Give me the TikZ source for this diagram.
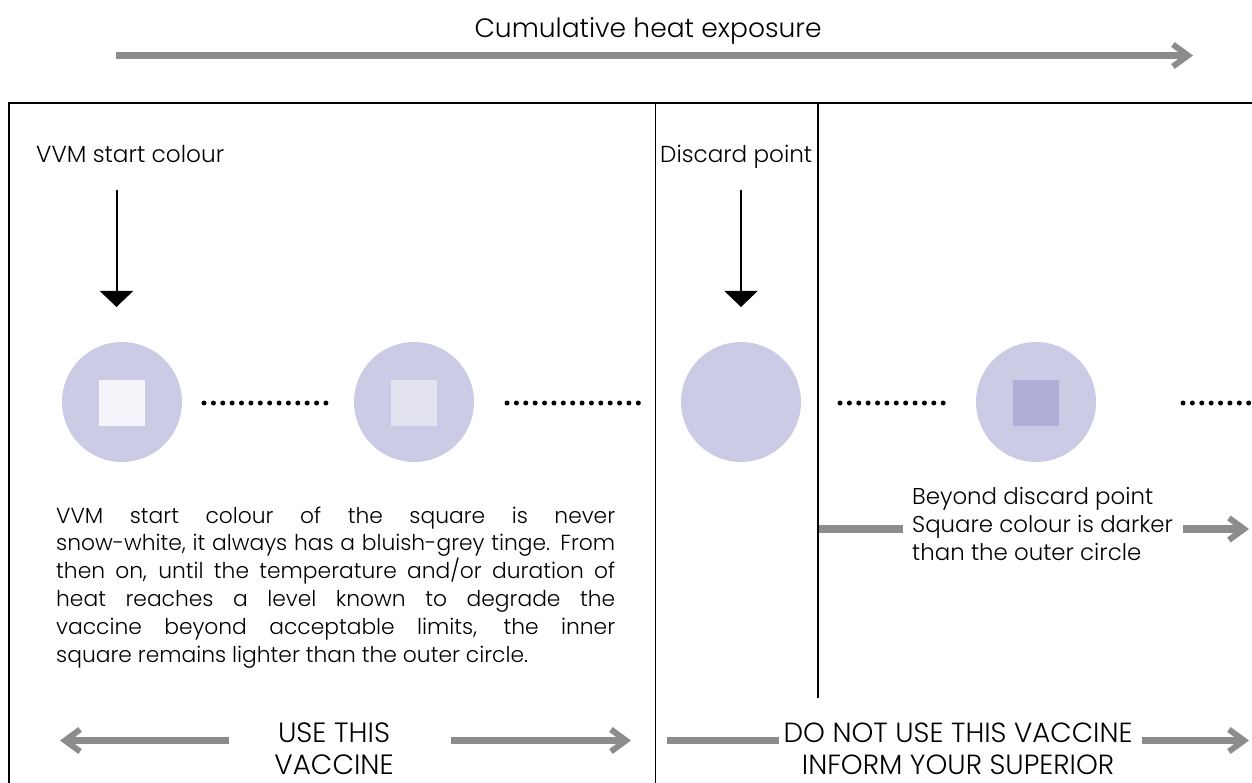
\documentclass[tikz,border=0pt]{standalone}
\usepackage{fontspec}
\IfFontExistsTF{Poppins Light}{\setmainfont{Poppins Light}}{\setmainfont{Poppins}}
\usetikzlibrary{arrows.meta}
\definecolor{circfill}{HTML}{CBCBE6}
\definecolor{sqA}{HTML}{F4F4FA}
\definecolor{sqB}{HTML}{E2E2F1}
\definecolor{sqD}{HTML}{AEAED6}
\definecolor{arrgray}{HTML}{8C8C8C}
\newsavebox\measbox
\newcommand\calcsize[3]{%
  \sbox\measbox{\fontsize{10pt}{12pt}\selectfont #3}%
  \pgfmathsetmacro#1{10*#2/\the\wd\measbox}}
\newcommand\jline[1]{\makebox[559pt][s]{#1}}
\tikzset{
  lbl/.style={inner sep=0pt},
  vvm/.style={circle, fill=circfill, minimum size=120pt, inner sep=0pt},
  sq/.style={minimum size=46pt, inner sep=0pt},
  border/.style={line width=1.6pt, black},
  pointer/.style={line width=2pt, -{Triangle[length=16pt,width=33pt]}},
  fat/.style={line width=7.5pt, arrgray},
  fatarrow/.style={fat, -{Straight Barb[length=15pt,width=22pt,line width=6pt]}},
  dotline/.style={line width=5pt, line cap=round, dash pattern=on 0pt off 9.38pt}
}
\begin{document}
\calcsize\sTitle{347}{Cumulative heat exposure}%
\calcsize\sLab{188}{VVM start colour}%
\calcsize\sDisc{152}{Discard point}%
\calcsize\sPara{552}{snow-white, it always has a bluish-grey tinge. From}%
\calcsize\sBey{241}{Beyond discard point}%
\calcsize\sUse{112}{USE THIS}%
\calcsize\sNot{349}{DO NOT USE THIS VACCINE}%
\begin{tikzpicture}[x=1pt,y=-1pt]
\useasboundingbox (0,0) rectangle (1252,783);
% title and top arrow
\node[lbl, anchor=base, font=\fontsize{\sTitle}{\sTitle}\selectfont] (title) at (648,38) {Cumulative heat exposure};
\coordinate (ta) at (116,55.5);
\coordinate (tb) at (1193,55.5);
\draw[fatarrow, line width=7pt] (ta) -- (tb);
% frame
\coordinate (fl) at (9,783);
\coordinate (ftl) at (9,103);
\coordinate (ftr) at (1252,103);
\coordinate (v1t) at (655.5,103);
\coordinate (v1b) at (655.5,783);
\coordinate (v2t) at (818,103);
\coordinate (v2b) at (818,698);
\draw[border] (fl) -- (ftl) -- (ftr);
\draw[border] (v1t) -- (v1b);
\draw[border] (v2t) -- (v2b);
% labels and pointers
\node[lbl, anchor=base west, font=\fontsize{\sLab}{\sLab}\selectfont] (vvmlab) at (36,163) {VVM start colour};
\node[lbl, anchor=base west, font=\fontsize{\sDisc}{\sDisc}\selectfont] (disclab) at (660,163) {Discard point};
\coordinate (p1a) at (116.5,190);
\coordinate (p1b) at (116.5,307);
\coordinate (p2a) at (741,190);
\coordinate (p2b) at (741,307);
\draw[pointer] (p1a) -- (p1b);
\draw[pointer] (p2a) -- (p2b);
% circles
\node[vvm] (c1) at (122,402) {};
\node[vvm] (c2) at (414,402) {};
\node[vvm] (c3) at (741,402) {};
\node[vvm] (c4) at (1036,402) {};
\node[sq, fill=sqA] (s1) at (122,403) {};
\node[sq, fill=sqB] (s2) at (414,403) {};
\node[sq, fill=sqD] (s4) at (1036,403) {};
% dots
\coordinate (d1a) at (204,403); \coordinate (d1b) at (326,403);
\coordinate (d2a) at (507,403); \coordinate (d2b) at (639,403);
\coordinate (d3a) at (840,403); \coordinate (d3b) at (944,403);
\coordinate (d4a) at (1183,403); \coordinate (d4b) at (1252,403);
\draw[dotline] (d1a) -- (d1b);
\draw[dotline] (d2a) -- (d2b);
\draw[dotline] (d3a) -- (d3b);
\draw[dotline] (d4a) -- (d4b);
% paragraph
\node[lbl, anchor=base west] (para) at (56,523) {\parbox[t]{559pt}{\fontsize{\sPara}{27.8}\selectfont
\jline{VVM start colour of the square is never}\\
\jline{snow-white, it always has a bluish-grey tinge. From}\\
\jline{then on, until the temperature and/or duration of}\\
\jline{heat reaches a level known to degrade the}\\
\jline{vaccine beyond acceptable limits, the inner}\\
square remains lighter than the outer circle.}};
% beyond text
\node[lbl, anchor=base west] (beyond) at (912,504) {\parbox[t]{300pt}{\fontsize{\sBey}{28}\selectfont Beyond discard point\\Square colour is darker\\than the outer circle}};
\coordinate (m1a) at (819,529); \coordinate (m1b) at (903,529);
\coordinate (m2a) at (1183,529); \coordinate (m2b) at (1249,529);
\draw[fat] (m1a) -- (m1b);
\draw[fatarrow] (m2a) -- (m2b);
% bottom
\node[lbl, anchor=base, font=\fontsize{\sUse}{\sUse}\selectfont] (use1) at (334,742) {USE THIS};
\node[lbl, anchor=base, font=\fontsize{\sUse}{\sUse}\selectfont] (use2) at (334,774) {VACCINE};
\node[lbl, anchor=base, font=\fontsize{\sNot}{\sNot}\selectfont] (not1) at (958,742) {DO NOT USE THIS VACCINE};
\node[lbl, anchor=base, font=\fontsize{\sNot}{\sNot}\selectfont] (not2) at (958,774) {INFORM YOUR SUPERIOR};
\coordinate (b1a) at (229,740.5); \coordinate (b1b) at (60,740.5);
\coordinate (b2a) at (451,740.5); \coordinate (b2b) at (631,740.5);
\coordinate (b3a) at (667,740.5); \coordinate (b3b) at (779,740.5);
\coordinate (b4a) at (1142,740.5); \coordinate (b4b) at (1249,740.5);
\draw[fatarrow] (b1a) -- (b1b);
\draw[fatarrow] (b2a) -- (b2b);
\draw[fat] (b3a) -- (b3b);
\draw[fatarrow] (b4a) -- (b4b);
\end{tikzpicture}
\end{document}
